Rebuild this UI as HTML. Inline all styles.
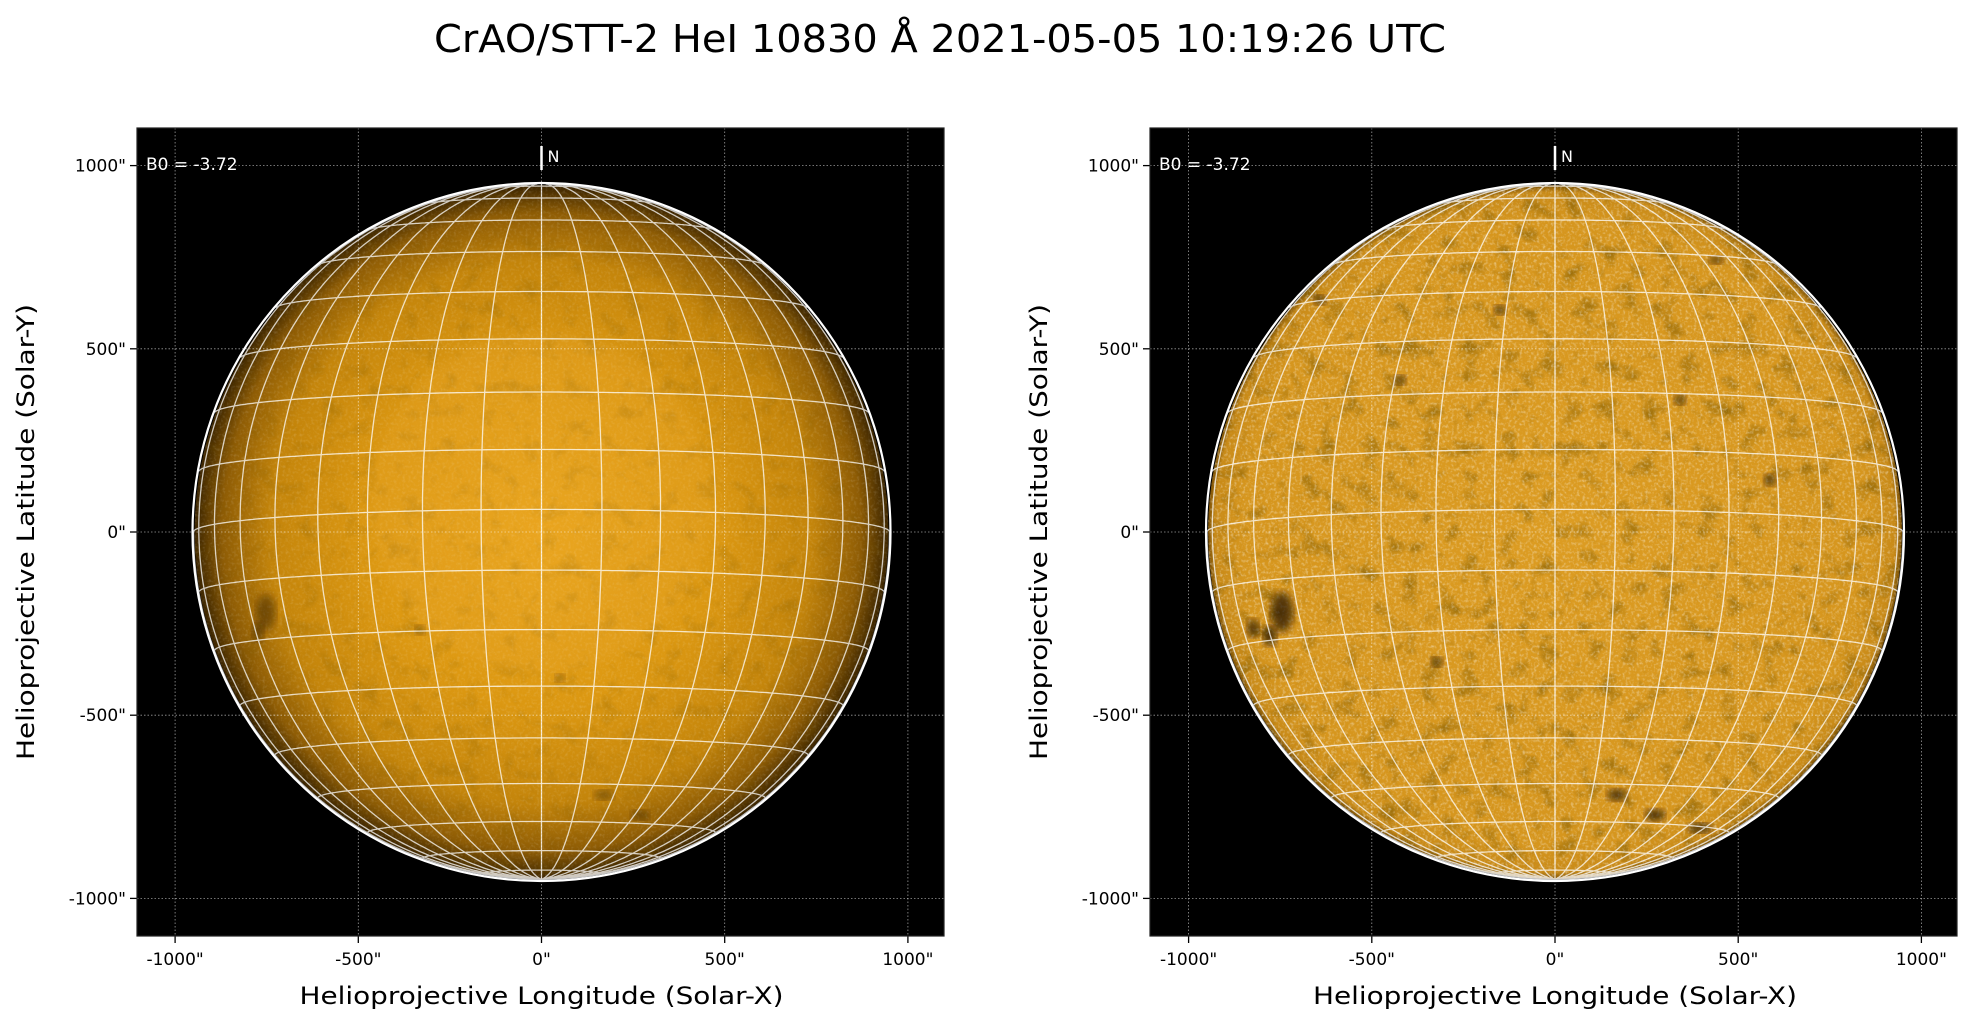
<!DOCTYPE html>
<html><head><meta charset="utf-8"><style>
html,body{margin:0;padding:0;background:#fff;}
svg{display:block;font-family:"DejaVu Sans","Liberation Sans",sans-serif;}
</style></head><body>
<svg id="s" width="1971" height="1026" viewBox="0 0 1971 1026" xmlns="http://www.w3.org/2000/svg">
<defs>
<radialGradient id="gL" cx="0.5" cy="0.5" r="0.5">
<stop offset="0" stop-color="#e9a41a"/>
<stop offset="0.5" stop-color="#dc9812"/>
<stop offset="0.78" stop-color="#c4850b"/>
<stop offset="0.92" stop-color="#8e5c05"/>
<stop offset="1" stop-color="#3a2400"/>
</radialGradient>
<radialGradient id="gR" cx="0.5" cy="0.5" r="0.5">
<stop offset="0" stop-color="#dc9c22"/>
<stop offset="0.9" stop-color="#d6961e"/>
<stop offset="0.98" stop-color="#c88a18"/>
<stop offset="1" stop-color="#7a5005"/>
</radialGradient>
<filter id="nz" x="0" y="0" width="100%" height="100%">
<feTurbulence type="fractalNoise" baseFrequency="0.35" numOctaves="2" seed="3"/>
<feColorMatrix type="matrix" values="0 0 0 0 1  0 0 0 0 1  0 0 0 0 1  1.6 0 0 0 -0.75"/>
</filter>
<filter id="nzd" x="0" y="0" width="100%" height="100%">
<feTurbulence type="fractalNoise" baseFrequency="0.05" numOctaves="3" seed="7"/>
<feColorMatrix type="matrix" values="0 0 0 0 0.2  0 0 0 0 0.1  0 0 0 0 0  -2.2 0 0 0 1.05"/>
</filter>
<filter id="bl"><feGaussianBlur stdDeviation="4"/></filter>
<clipPath id="cL"><circle cx="541.5" cy="532" r="347"/></clipPath>
<clipPath id="cR"><circle cx="1555" cy="532" r="347"/></clipPath>
</defs>
<text x="940" y="52" font-size="38" text-anchor="middle" textLength="1012" lengthAdjust="spacingAndGlyphs">CrAO/STT-2 HeI 10830 Å 2021-05-05 10:19:26 UTC</text>
<g id="panels"></g>
</svg>
<script>
var NS="http://www.w3.org/2000/svg",S=document.getElementById('panels');
function el(t,a,p,txt){var e=document.createElementNS(NS,t);for(var k in a)e.setAttribute(k,a[k]);if(txt!==undefined)e.textContent=txt;(p||S).appendChild(e);return e;}
var R=348,B0=-3.72*Math.PI/180,sc=0.3664;
var spotsL=[[266,612,10,18],[258,632,6,10],[604,795,10,5],[640,815,9,5],[560,678,5,4],[420,630,5,5]];
var spotsR=[[1282,612,11,20],[1270,636,7,10],[1253,628,6,9],[1617,795,10,6],[1655,815,10,6],[1700,828,12,5],[1716,260,7,4],[1437,662,6,5],[1770,480,6,6],[1400,380,6,5],[1500,310,6,5],[1680,400,6,5],[1320,300,6,5]];
function panel(ax,cx,right){
 var cy=532,top=128,w=807,h=808;
 var g=el('g',{});
 el('rect',{x:ax,y:top,width:w,height:h,fill:'#000'},g);
 var cid=right?'cR':'cL';
 var dg=el('g',{'clip-path':'url(#'+cid+')'},g);
 el('circle',{cx:cx,cy:cy,r:347,fill:right?'url(#gR)':'url(#gL)'},dg);
 el('rect',{x:cx-350,y:cy-350,width:700,height:700,filter:'url(#nzd)',opacity:right?0.75:0.3},dg);
 el('rect',{x:cx-350,y:cy-350,width:700,height:700,filter:'url(#nz)',opacity:right?0.6:0.2},dg);
 if(!right) el('circle',{cx:cx,cy:cy-30,r:170,fill:'#f0b040',opacity:0.15,filter:'url(#bl)'},dg);
 var sp=right?spotsR:spotsL;
 sp.forEach(function(s){el('ellipse',{cx:s[0],cy:s[1],rx:s[2],ry:s[3],fill:'#1a0e00',opacity:right?0.7:0.4,filter:'url(#bl)'},dg);});
 var d='';
 function P(lat,lon){lat*=Math.PI/180;lon*=Math.PI/180;
  var x=Math.cos(lat)*Math.sin(lon),y=Math.cos(B0)*Math.sin(lat)-Math.sin(B0)*Math.cos(lat)*Math.cos(lon),z=Math.sin(B0)*Math.sin(lat)+Math.cos(B0)*Math.cos(lat)*Math.cos(lon);
  return [cx+R*x,cy-R*y,z];}
 for(var lat=-80;lat<=80;lat+=10){var pen=false;for(var lon=-90;lon<=90;lon+=1){var p=P(lat,lon);if(p[2]>=0){d+=(pen?'L':'M')+p[0].toFixed(1)+' '+p[1].toFixed(1);pen=true;}else pen=false;}}
 for(var lon=-90;lon<=90;lon+=10){var pen=false;for(var lat=-90;lat<=90;lat+=1){var p=P(lat,lon);if(p[2]>=0){d+=(pen?'L':'M')+p[0].toFixed(1)+' '+p[1].toFixed(1);pen=true;}else pen=false;}}
 el('path',{d:d,fill:'none',stroke:'#fff',opacity:0.75,'stroke-width':1.3},g);
 el('circle',{cx:cx,cy:cy,r:349,fill:'none',stroke:'#fff','stroke-width':2.2},g);
 [-1000,-500,0,500,1000].forEach(function(v){
  var X=cx+v*sc,Y=cy-v*sc;
  el('line',{x1:X,y1:top,x2:X,y2:top+h,stroke:'#fff',opacity:0.6,'stroke-width':0.8,'stroke-dasharray':'1.5 2'},g);
  el('line',{x1:ax,y1:Y,x2:ax+w,y2:Y,stroke:'#fff',opacity:0.6,'stroke-width':0.8,'stroke-dasharray':'1.5 2'},g);
  el('line',{x1:X,y1:top+h,x2:X,y2:top+h+7,stroke:'#000','stroke-width':1.3},g);
  el('line',{x1:ax-7,y1:Y,x2:ax,y2:Y,stroke:'#000','stroke-width':1.3},g);
  el('text',{x:X,y:top+h+29,'font-size':17,'text-anchor':'middle'},g,v+'"');
  el('text',{x:ax-11,y:Y+6,'font-size':17,'text-anchor':'end'},g,v+'"');
 });
 el('rect',{x:ax,y:top,width:w,height:h,fill:'none',stroke:'#222','stroke-width':1.2},g);
 el('text',{x:ax+9,y:170,'font-size':17,fill:'#fff'},g,'B0 = -3.72');
 el('line',{x1:cx,y1:146,x2:cx,y2:170,stroke:'#fff','stroke-width':2.5},g);
 el('text',{x:cx+6,y:162,'font-size':16,fill:'#fff'},g,'N');
 el('text',{x:cx,y:1004,'font-size':24,'text-anchor':'middle',textLength:484,lengthAdjust:'spacingAndGlyphs'},g,'Helioprojective Longitude (Solar-X)');
 var lx=ax-103;
 el('text',{x:lx,y:cy,'font-size':24,'text-anchor':'middle',transform:'rotate(-90 '+lx+' '+cy+')',textLength:456,lengthAdjust:'spacingAndGlyphs'},g,'Helioprojective Latitude (Solar-Y)');
}
panel(137,541.5,false);
panel(1150,1555,true);
</script>
</body></html>
